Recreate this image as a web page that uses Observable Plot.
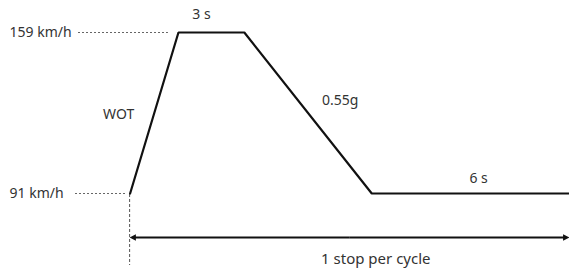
<!DOCTYPE html>
<html>
<head>
<meta charset="utf-8">
<script src="https://cdn.jsdelivr.net/npm/d3@7"></script>
<script src="https://cdn.jsdelivr.net/npm/@observablehq/plot@0.6"></script>
<style>
  html, body { margin: 0; padding: 0; background: #fff; }
  svg { display: block; }
</style>
</head>
<body>
<div id="chart"></div>
<script>
// Schematic speed profile of one braking cycle
const phases = ["start", "WOT end", "hold end", "brake end", "end"];
const times  = [0, 2.2, 5.2, 11, 20];          // schematic time axis
const speeds = [91, 159, 159, 91, 91];         // km/h
const speedLabels = ["159 km/h", "91 km/h"];
const speedLevels = [159, 91];
const holdLabel = "3 s";
const idleLabel = "6 s";
const riseLabel = "WOT";
const decelLabel = "0.55g";
const cycleLabel = "1 stop per cycle";

const profile = phases.map((p, i) => ({phase: p, t: times[i], v: speeds[i]}));
const xMin = -5.9, xMax = 20;
const xMid = (times[0] + xMax) / 2;
const font = "'Noto Sans', sans-serif";
const ink = "#333";

const chart = Plot.plot({
  width: 569,
  height: 272,
  marginTop: 0,
  marginRight: 0,
  marginBottom: 7,
  marginLeft: 0,
  x: {domain: [xMin, xMax], range: [0, 569], axis: null},
  y: {domain: [91, 159], range: [193, 32], axis: null},
  style: {fontFamily: font, fontSize: "14px", color: ink, background: "#fff"},
  marks: [
    // dotted leaders from speed labels
    Plot.ruleY([159], {x1: xMin, x2: times[1], insetLeft: 78, insetRight: 10, stroke: "#666", strokeWidth: 1, strokeDasharray: "2,2"}),
    Plot.ruleY([91], {x1: xMin, x2: times[0], insetLeft: 75, insetRight: 3, stroke: "#666", strokeWidth: 1, strokeDasharray: "2,2"}),
    // vertical dashed marker at cycle start
    Plot.ruleX([times[0]], {insetTop: 194, stroke: "#555", strokeWidth: 1, strokeDasharray: "3,2", dx: -0.5}),
    // speed profile
    Plot.line(profile, {x: "t", y: "v", stroke: "#111", strokeWidth: 2.2, strokeLinejoin: "miter"}),
    // cycle arrow (two halves, each pointing outward)
    Plot.link([times[0] + 0.12, xMax - 0.15], {x1: () => xMid, x2: d => d, y1: () => 91, y2: () => 91, dy: 44,
      stroke: "#111", strokeWidth: 2, markerEnd: "arrow"}),
    // speed labels
    Plot.text(speedLevels, {y: d => d, text: (d, i) => speedLabels[i], frameAnchor: "left", textAnchor: "start", dx: 9, fill: ink, fontSize: 14}),
    // phase labels
    Plot.text([holdLabel], {x: () => (times[1] + times[2]) / 2, y: () => speeds[1], text: d => d, dx: -10, dy: -18, fill: ink, fontSize: 14}),
    Plot.text([riseLabel], {x: () => (times[0] + times[1]) / 2, y: () => (speeds[0] + speeds[1]) / 2, text: d => d, textAnchor: "end", dx: -20, dy: 2, fill: ink, fontSize: 14}),
    Plot.text([decelLabel], {x: () => (times[2] + times[3]) / 2, y: () => (speeds[2] + speeds[3]) / 2, text: d => d, textAnchor: "start", dx: 14, dy: -12.5, fill: ink, fontSize: 14}),
    Plot.text([idleLabel], {x: () => (times[3] + times[4]) / 2, y: () => speeds[4], text: d => d, dx: 8, dy: -15, fill: ink, fontSize: 14}),
    Plot.text([cycleLabel], {x: () => xMid, y: () => speeds[0], text: d => d, dx: 26, dy: 66, fill: ink, fontSize: 15, style: {wordSpacing: "4px"}})
  ]
});
// render the arrowheads as small filled triangles
d3.select(chart).selectAll("marker")
  .attr("markerWidth", 4.5).attr("markerHeight", 4.5)
  .select("path").attr("d", "M-3.5,-3.5L3.5,0L-3.5,3.5Z").attr("fill", "#111").attr("stroke", "none");
document.getElementById("chart").appendChild(chart);
</script>
</body>
</html>
